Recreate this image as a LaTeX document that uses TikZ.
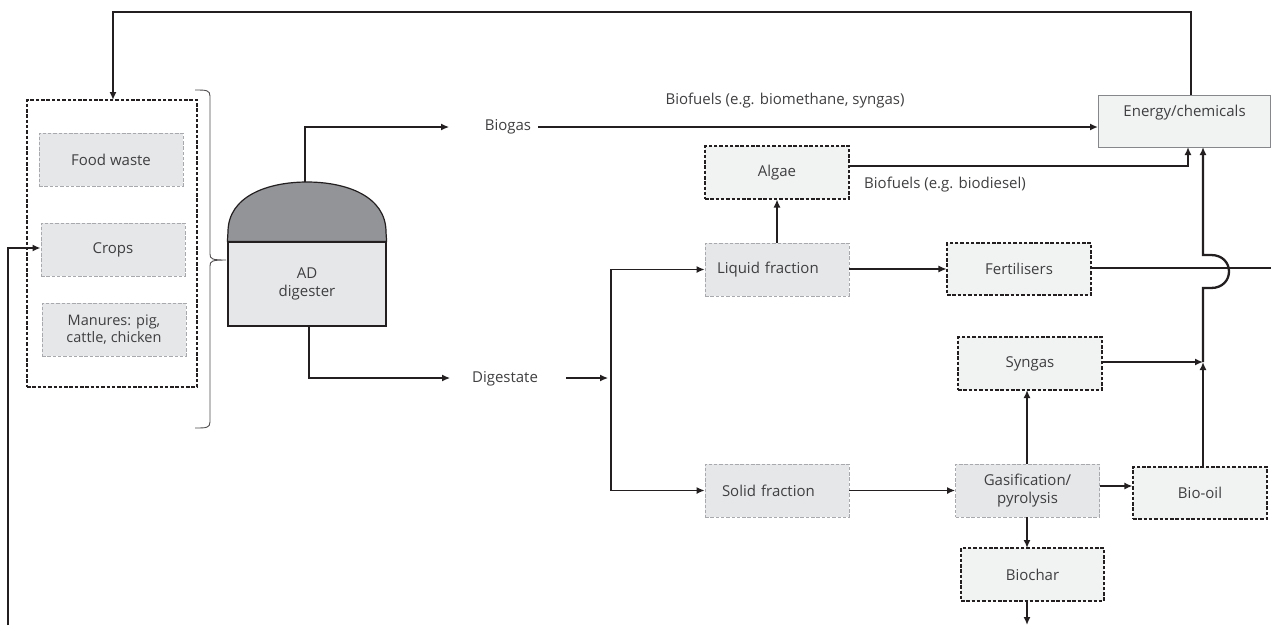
\documentclass[tikz,border=0pt]{standalone}
\usepackage{fontspec}
\setmainfont{Open Sans}
\usetikzlibrary{arrows.meta}
\definecolor{txt}{HTML}{3F3F41}
\definecolor{ln}{HTML}{231F20}
\definecolor{boxA}{HTML}{E6E7E8}
\definecolor{boxB}{HTML}{F1F2F2}
\definecolor{dome}{HTML}{929497}
\definecolor{lgray}{HTML}{A7A9AC}
\tikzset{
  every node/.style={font=\fontsize{15}{18}\selectfont, text=txt},
  inbox/.style={draw=lgray, fill=boxA, line width=0.9pt, dash pattern=on 3.5pt off 1.8pt, minimum width=144pt, minimum height=53pt, inner sep=2pt, align=center},
  outbox/.style={draw=ln, fill=boxB, line width=1.1pt, dash pattern=on 3.5pt off 1.8pt, minimum width=144pt, minimum height=53pt, inner sep=2pt, align=center},
  thinc/.style={draw=ln, line width=1.2pt},
  thickc/.style={draw=ln, line width=2.3pt},
  tipa/.style={-{Latex[length=8pt,width=7pt]}},
  lbl/.style={inner sep=0pt}
}
\begin{document}
\begin{tikzpicture}[x=1pt,y=-1pt]
\useasboundingbox (0,0) rectangle (1271,625);
% input group
\node[draw=ln, line width=1.1pt, dash pattern=on 3.5pt off 1.8pt, minimum width=170pt, minimum height=287pt, inner sep=0pt] (group) at (112,243.5) {};
\node[inbox] (food) at (111,159.5) {Food waste};
\node[inbox] (crops) at (113,249.5) {Crops};
\node[inbox, font=\fontsize{14.5}{17}\selectfont] (manure) at (114,329.5) {Manures: pig,\\cattle, chicken};
% brace
\draw[draw=ln!80, line width=0.9pt] (195,90) .. controls (206,90) and (210,90) .. (210,96) -- (210,254) .. controls (210,259) and (212,260) .. (226,260)
  (226,260) .. controls (212,260) and (210,261) .. (210,266) -- (210,422) .. controls (210,428) and (206,428) .. (195,428);
% digester
\node[draw=ln, fill=boxA, line width=1.2pt, minimum width=158pt, minimum height=84pt, align=center] (ad) at (307,284) {AD\\digester};
\draw[draw=ln, fill=dome, line width=1.2pt] (ad.north west) -- (228,232) .. controls (228,196) and (268,182) .. (307,182) coordinate (dometop) .. controls (346,182) and (386,196) .. (386,232) -- (ad.north east) -- cycle;
\node[lbl] (biogas) at (508,127) {Biogas};
\node[lbl] (digestate) at (505,379) {Digestate};
\coordinate (bgin) at (449,127);
\coordinate (dgin) at (450,378);
\draw[thinc, tipa] (305,182) |- (bgin);
\draw[thinc, tipa] (309,326) |- (dgin);
% energy
\node[draw=lgray!80!black, fill=boxB, line width=1.1pt, anchor=north west, minimum width=172pt, minimum height=52pt, text depth=22pt, inner sep=2pt] (energy) at (1098,95) {Energy/chemicals};
\coordinate (bge) at (538,127);
\draw[thickc, tipa] (bge) -- (bge -| energy.west);
\node[lbl] (bf1) at (785,101) {Biofuels (e.g. biomethane, syngas)};
% split
\coordinate (split) at (611,378);
\coordinate (dgout) at (566,378);
\node[inbox, text width=120pt, align=left, inner xsep=12pt] (liquid) at (777,269.5) {Liquid fraction};
\node[inbox, text width=110pt, align=left, inner xsep=17pt] (solid) at (777,490.5) {Solid fraction};
\draw[thinc, tipa] (dgout) -- ([xshift=-3pt]split);
\draw[thinc, tipa] (split) |- (liquid.west);
\draw[thinc, tipa] (split) |- (solid.west);
% algae
\node[outbox] (algae) at (777,172.5) {Algae};
\draw[thinc, tipa] (liquid.north) -- (algae.south);
\node[lbl] (bf2) at (945,185) {Biofuels (e.g. biodiesel)};
\draw[thickc, tipa] (algae.east |- 0,166) -- (1188,166) -- (1188,147);
% fertilisers
\node[outbox, minimum width=144pt, minimum height=52pt] (fert) at (1019,269) {Fertilisers};
\draw[thinc, tipa] (liquid.east |- 0,269) -- (fert.west |- 0,269);
\draw[thickc] (fert.east |- 0,268) -- (1271,268);
% syngas etc
\node[outbox] (syngas) at (1030,363.5) {Syngas};
\node[inbox] (gasif) at (1027.5,490.5) {Gasification/\\pyrolysis};
\node[outbox, minimum width=134pt, minimum height=52pt] (biooil) at (1200,493) {Bio-oil};
\node[outbox, minimum width=143pt] (biochar) at (1032.5,574.5) {Biochar};
\coordinate (junc) at (1203,362);
\coordinate (bcend) at (1027,625);
\draw[thinc, tipa] (solid.east) -- (gasif.west);
\draw[thickc, tipa] (1027,464) -- (1027,390);
\draw[thickc, tipa] (gasif.east |- 0,486) -- (biooil.west |- 0,486);
\draw[thickc, tipa] (1027,517) -- (1027,548);
\draw[thickc, tipa] (1027,601) -- (bcend);
\draw[thickc, tipa] (syngas.east |- junc) -- (junc);
\draw[thickc, tipa] (biooil.north -| junc) -- (junc);
\draw[thickc, tipa] (junc) -- (1203,288) -- (1211,288) .. controls (1235,288) and (1235,255) .. (1211,255) -- (1203,255) -- (1203,147);
% feedback loops
\draw[thickc, tipa] (1191,95) -- (1191,12) -- (113,12) -- (113,100);
\draw[thickc, tipa] (8,625) -- (8,248) -- (crops.west |- 0,248);
\end{tikzpicture}
\end{document}
